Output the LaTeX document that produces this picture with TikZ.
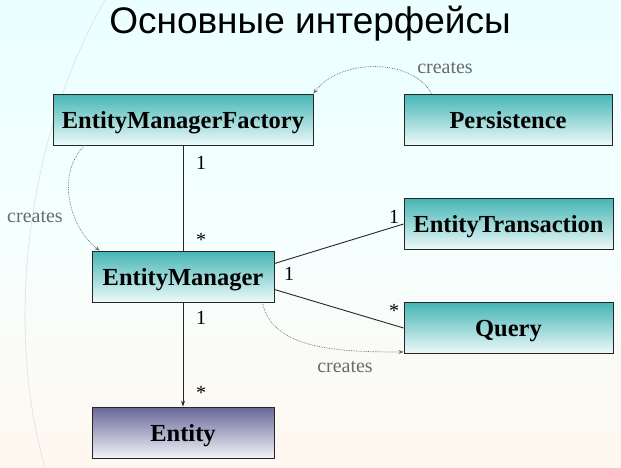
\documentclass[tikz,border=0pt]{standalone}
\usepackage{fontspec}
\setmainfont{Liberation Serif}
\newfontfamily\titlefont{Liberation Sans}
\usetikzlibrary{positioning,arrows.meta}

\definecolor{tealtop}{HTML}{45B5B5}
\definecolor{tealbot}{HTML}{EEF9F9}
\definecolor{violtop}{HTML}{67679A}
\definecolor{violbot}{HTML}{F2F2F8}
\definecolor{notegray}{HTML}{6A6A6A}

\begin{document}
\begin{tikzpicture}[
x=1pt, y=-1pt,
box/.style={draw=black!85, line width=0.9pt, top color=tealtop, bottom color=tealbot,
  font=\fontsize{24.5}{27}\selectfont\bfseries, inner sep=0pt, minimum height=51pt,
  text depth=0pt},
ent/.style={box, top color=violtop, bottom color=violbot},
mult/.style={font=\fontsize{20}{22}\selectfont, inner sep=0pt},
note/.style={font=\fontsize{20}{22}\selectfont, text=notegray, inner sep=0pt},
assoc/.style={line width=0.9pt, black!85},
dep/.style={-{Stealth[length=5pt,width=4pt]}, densely dotted, notegray, line width=0.7pt}
]
% background
\shade[top color=cyan!8, bottom color=orange!6!white, middle color=cyan!4!white]
  (0,0) rectangle (621,467);
\useasboundingbox (0,0) rectangle (621,467);
\draw[white!75!gray, line width=0.6pt] (105,0) .. controls (25,140) and (5,330) .. (45,467);

\node[font=\titlefont\fontsize{37}{40}\selectfont] (title) at (310,24) {Основные интерфейсы};

\node[box, minimum width=260pt] (emf) at (183,119.5) {EntityManagerFactory};
\node[box, minimum width=208pt] (pers) at (508,119.5) {Persistence};
\node[box, minimum width=209pt] (trans) at (508.5,224) {EntityTransaction};
\node[box, minimum width=209pt] (query) at (508.5,328) {Query};
\node[box, minimum width=182pt] (em) at (183,276.5) {EntityManager};
\node[ent, minimum width=182pt] (ent) at (183,432.5) {Entity};

% associations
\draw[assoc] (emf.south) -- (em.north);
\draw[assoc, -{Stealth[length=6pt,width=4pt]}] (em.south) -- (ent.north);
\draw[assoc] ([yshift=13pt]em.east) -- (trans.west);
\draw[assoc] ([yshift=-13pt]em.east) -- (query.west);

\node[mult] (m1) at (201,163) {1};
\node[mult] (m2) at (201,240) {*};
\node[mult] (m3) at (201,318) {1};
\node[mult] (m4) at (201,393) {*};
\node[mult] (m5) at (394,217) {1};
\node[mult] (m6) at (289,274) {1};
\node[mult] (m7) at (394,311) {*};

% creates
\draw[dep] ([xshift=28pt]pers.north west) .. controls (412,58) and (340,58) .. (emf.north east);
\draw[dep] ([xshift=32pt]emf.south west) .. controls (55,175) and (70,228) .. ([xshift=8pt]em.north west);
\draw[dep] ([xshift=-12pt]em.south east) .. controls (272,350) and (340,352) .. ([yshift=2pt]query.south west);

\node[note] (c1) at (445,68) {creates};
\node[note] (c2) at (35,217) {creates};
\node[note] (c3) at (345,367) {creates};
\end{tikzpicture}
\end{document}
